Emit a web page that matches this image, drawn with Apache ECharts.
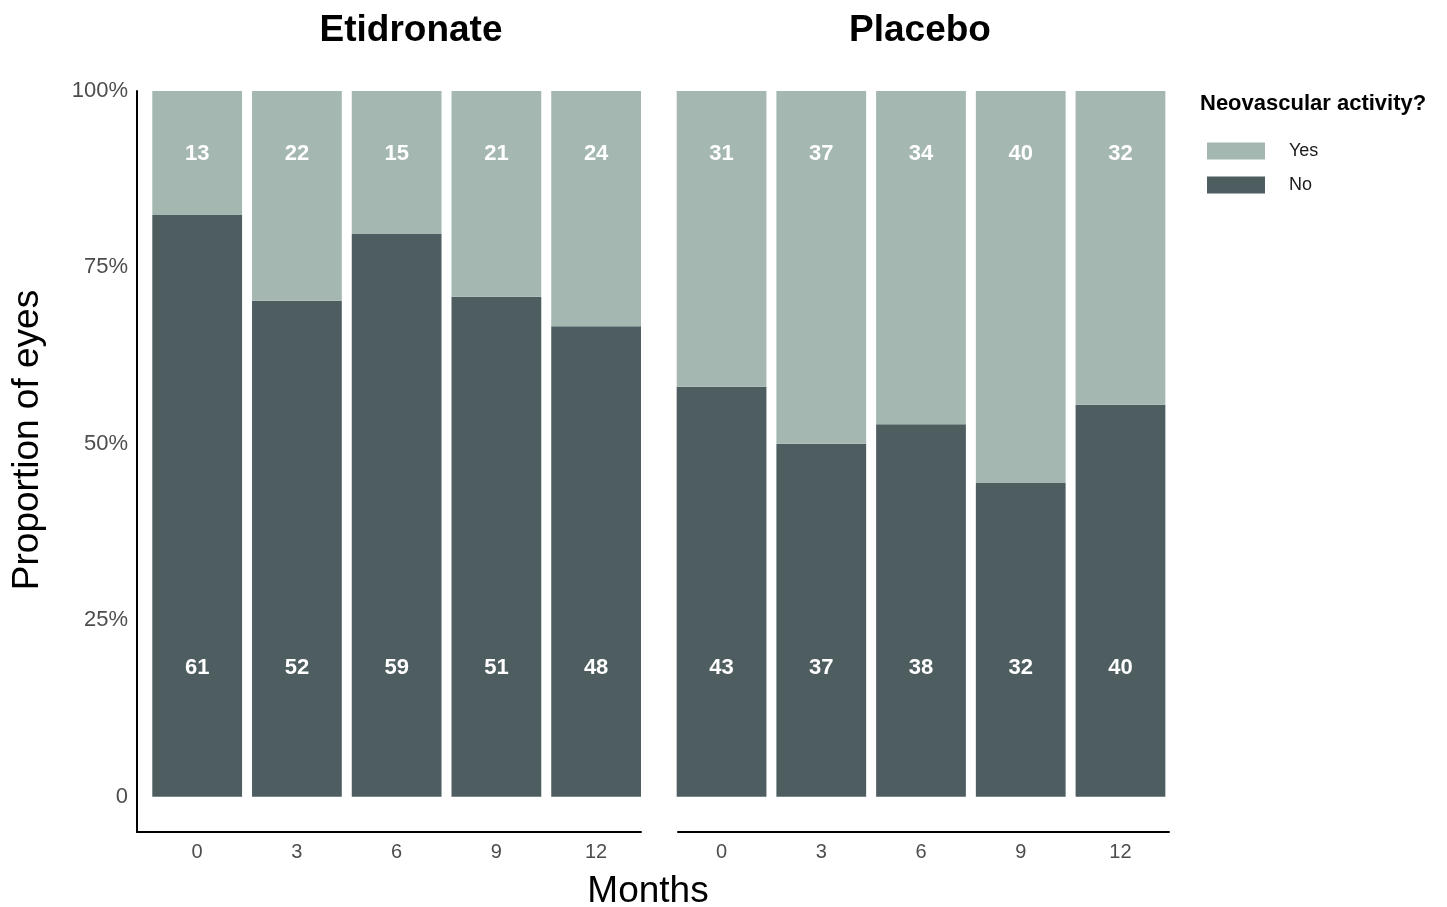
<!DOCTYPE html>
<html>
<head>
<meta charset="utf-8">
<script src="https://cdn.jsdelivr.net/npm/echarts@6/dist/echarts.min.js"></script>
<style>
html,body{margin:0;padding:0;background:#fff;}
#chart{width:1447px;height:907px;}
</style>
</head>
<body>
<div id="chart"></div>
<script>
// ---- data ----
const months = [0, 3, 6, 9, 12];
const panels = ['Etidronate', 'Placebo'];
const etidronateYes = [13, 22, 15, 21, 24];
const etidronateNo = [61, 52, 59, 51, 48];
const placeboYes = [31, 37, 34, 40, 32];
const placeboNo = [43, 37, 38, 32, 40];
const yTickValues = [0, 0.25, 0.5, 0.75, 1];
const yTickLabels = ['0', '25%', '50%', '75%', '100%'];

const COL_YES = '#a4b7b1';
const COL_NO = '#4e5e60';
const FONT = '"Liberation Sans", Arial, Helvetica, sans-serif';

// item: [proportion, month, count]  (proportion first so it is the stacked dimension)
function build(yes, no, which) {
  return months.map((m, i) => {
    const tot = yes[i] + no[i];
    const c = which === 'yes' ? yes[i] : no[i];
    return [c / tot, m, c];
  });
}

const labelStyle = {
  show: true,
  color: '#ffffff',
  fontWeight: 'bold',
  fontSize: 22,
  fontFamily: FONT,
  formatter: p => String(p.value[2])
};

function seriesFor(gi, yes, no) {
  return [
    {
      name: 'No', type: 'bar', stack: 'p' + gi, xAxisIndex: gi, yAxisIndex: gi,
      encode: { x: 1, y: 0 },
      barWidth: '90%', itemStyle: { color: COL_NO },
      label: Object.assign({}, labelStyle, { position: 'insideBottom', distance: 118 }),
      data: build(yes, no, 'no'), silent: true
    },
    {
      name: 'Yes', type: 'bar', stack: 'p' + gi, xAxisIndex: gi, yAxisIndex: gi,
      encode: { x: 1, y: 0 },
      barWidth: '90%', itemStyle: { color: COL_YES },
      label: Object.assign({}, labelStyle, { position: 'insideTop', distance: 52 }),
      data: build(yes, no, 'yes'), silent: true
    }
  ];
}

function xAxisFor(gi, min, max) {
  return {
    type: 'value', gridIndex: gi, min: min, max: max,
    axisLine: { show: true, onZero: false, lineStyle: { color: '#000', width: 2 } },
    axisTick: { show: false },
    splitLine: { show: false },
    axisLabel: {
      customValues: months, color: '#4d4d4d', fontSize: 20, fontFamily: FONT, margin: 10,
      formatter: v => String(v)
    }
  };
}

function yAxisFor(gi, visible) {
  return {
    type: 'value', gridIndex: gi, min: -0.05, max: 1,
    axisLine: { show: visible, onZero: false, lineStyle: { color: '#000', width: 2 } },
    axisTick: { show: false },
    splitLine: { show: false },
    axisLabel: {
      show: visible,
      customValues: yTickValues, color: '#4d4d4d', fontSize: 22, fontFamily: FONT, margin: 9,
      formatter: v => {
        const idx = yTickValues.findIndex(t => Math.abs(t - v) < 1e-9);
        return idx >= 0 ? yTickLabels[idx] : '';
      }
    }
  };
}

const chart = echarts.init(document.getElementById('chart'), null, { renderer: 'canvas' });
chart.setOption({
  backgroundColor: '#ffffff',
  animation: false,
  textStyle: { fontFamily: FONT },
  title: [
    { text: panels[0], left: 411, top: 12, textAlign: 'center', padding: 0,
      textStyle: { fontSize: 37, fontWeight: 'bold', color: '#000', fontFamily: FONT } },
    { text: panels[1], left: 920, top: 12, textAlign: 'center', padding: 0,
      textStyle: { fontSize: 37, fontWeight: 'bold', color: '#000', fontFamily: FONT } },
    { text: 'Neovascular activity?', left: 1200, top: 93, padding: 0,
      textStyle: { fontSize: 22, fontWeight: 'bold', color: '#000', fontFamily: FONT } },
    { text: 'Months', left: 648, top: 873, textAlign: 'center', padding: 0,
      textStyle: { fontSize: 37, fontWeight: 'normal', color: '#000', fontFamily: FONT } }
  ],
  graphic: [
    { type: 'text', x: 28, y: 440, rotation: Math.PI / 2,
      style: { text: 'Proportion of eyes', fontSize: 37, fontFamily: FONT, fill: '#000',
               align: 'center', verticalAlign: 'middle' } }
  ],
  legend: {
    data: ['Yes', 'No'],
    orient: 'vertical',
    left: 1207, top: 142, padding: 0,
    itemWidth: 58, itemHeight: 17, itemGap: 16,
    icon: 'rect',
    selectedMode: false,
    textStyle: { fontSize: 18, color: '#1a1a1a', fontFamily: FONT, padding: [0, 0, 0, 19] }
  },
  grid: [
    { left: 137, right: 1447 - 641, top: 91, bottom: 75 },
    { left: 678, right: 1447 - 1169, top: 91, bottom: 75 }
  ],
  xAxis: [xAxisFor(0, -1.81, 13.35), xAxisFor(1, -1.31, 13.46)],
  yAxis: [yAxisFor(0, true), yAxisFor(1, false)],
  series: [].concat(seriesFor(0, etidronateYes, etidronateNo), seriesFor(1, placeboYes, placeboNo))
});
</script>
</body>
</html>
